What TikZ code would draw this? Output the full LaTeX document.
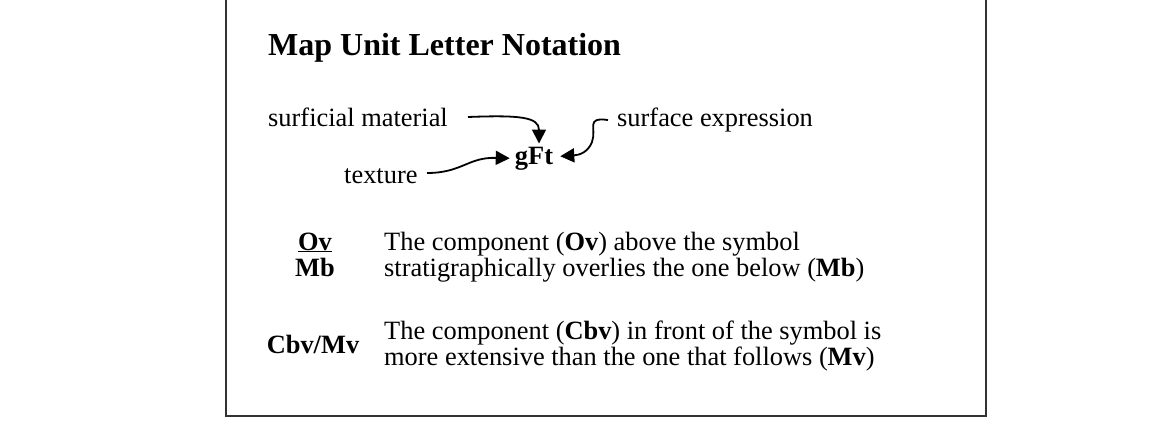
\documentclass[tikz,border=0pt]{standalone}
\usepackage{fontspec}
\setmainfont{Liberation Serif}
\usetikzlibrary{arrows.meta}
\begin{document}
\begin{tikzpicture}[x=1pt,y=-1pt,
  txt/.style={inner sep=0pt,anchor=base west,font=\fontsize{26.4}{28}\selectfont},
  btxt/.style={inner sep=0pt,anchor=base,font=\fontsize{26.4}{28}\selectfont\bfseries},
  ttl/.style={inner sep=0pt,anchor=base west,font=\fontsize{32}{34}\selectfont\bfseries},
  arr/.style={line width=1.8pt,-{Triangle[length=14pt,width=14pt]}},
  frame/.style={line width=2.2pt,draw=black!80}]
\useasboundingbox (0,0) rectangle (1165,431);
\draw[frame] (226,-10) -- (226,416) -- (986,416) -- (986,-10);
\node[ttl] (title) at (268,55) {Map Unit Letter Notation};
\node[txt] (sm) at (268,126) {surficial material};
\node[txt] (se) at (617,126) {surface expression};
\node[txt] (tex) at (344,183) {texture};
\node[btxt] (gft) at (534,164) {gFt};
\coordinate (smS) at (468,117);
\coordinate (teS) at (427,173);
\coordinate (seS) at (608,120);
\draw[arr] (smS) .. controls (520,115) and (539,117) .. ([xshift=5pt,yshift=3pt]gft.north);
\draw[arr] (teS) .. controls (462,173) and (468,157) .. ([xshift=-5pt]gft.west);
\draw[arr] (seS) .. controls (585,117) and (597,128) .. (592,142) .. controls (588,152) and (580,155) .. ([xshift=7pt,yshift=2pt]gft.east);
\node[btxt] (ov) at (315,250) {\underline{Ov}};
\node[btxt] (mb) at (315,276) {Mb};
\node[txt] (l1) at (384,250) {The component (\textbf{Ov}) above the symbol};
\node[txt] (l2) at (384,276) {stratigraphically overlies the one below (\textbf{Mb})};
\node[btxt] (cm) at (313,353) {Cbv/Mv};
\node[txt] (l3) at (384,339) {The component (\textbf{Cbv}) in front of the symbol is};
\node[txt] (l4) at (384,365) {more extensive than the one that follows (\textbf{Mv})};
\end{tikzpicture}
\end{document}
